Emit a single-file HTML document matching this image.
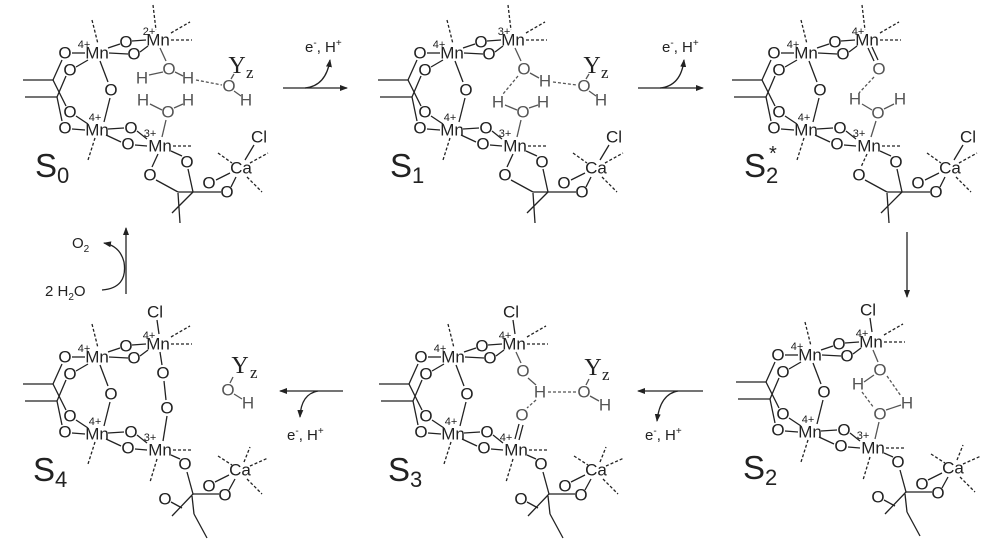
<!DOCTYPE html>
<html><head><meta charset="utf-8">
<style>
html,body{margin:0;padding:0;background:#fff;}
svg{display:block;}
text{font-family:"Liberation Sans",sans-serif;fill:#222;}
.a{font-size:17px;text-anchor:middle;dominant-baseline:central;}
.g{fill:#555;}
.c{font-size:11px;text-anchor:middle;dominant-baseline:central;}
.y{font-family:"Liberation Serif",serif;font-size:24px;text-anchor:middle;dominant-baseline:central;}
.z{font-family:"Liberation Serif",serif;font-size:17px;}
.S{font-size:33px;}
.s{font-size:22px;}
.lb{font-size:15px;}
line,path,polyline{stroke:#222;stroke-width:1.3;fill:none;}
.d{stroke-dasharray:3,2;}
.gl{stroke:#555;}
</style></head><body>
<svg width="1000" height="546" viewBox="0 0 1000 546" xmlns="http://www.w3.org/2000/svg">
<defs>
<marker id="ah" markerWidth="8" markerHeight="6" refX="7" refY="3" orient="auto" markerUnits="userSpaceOnUse"><path d="M0,0 L8,3 L0,6 Z" style="fill:#222;stroke:none"/></marker>
</defs>

<!-- ============ S0 ============ -->
<g transform="translate(0,0)">
<text class="a" x="65" y="53">O</text><text class="a" x="97" y="53">Mn</text><text class="c" x="84" y="45">4+</text>
<text class="a" x="126" y="42">O</text><text class="a" x="134" y="54">O</text><text class="a" x="158" y="40">Mn</text><text class="c" x="149" y="32">2+</text>
<text class="a" x="70" y="70">O</text><text class="a" x="111" y="90">O</text><text class="a" x="70" y="112">O</text><text class="a" x="65" y="128">O</text>
<text class="a" x="97" y="130">Mn</text><text class="c" x="95" y="118">4+</text>
<text class="a" x="131" y="128">O</text><text class="a" x="128" y="144">O</text><text class="a" x="160" y="146">Mn</text><text class="c" x="150" y="134">3+</text>
<line x1="72" y1="53" x2="85" y2="53"/><line x1="108" y1="48" x2="120" y2="44"/><line x1="132" y1="41" x2="146" y2="40"/>
<line x1="109" y1="53" x2="128" y2="54"/><line x1="140" y1="52" x2="148" y2="46"/>
<line x1="23" y1="80" x2="53" y2="80"/><line x1="25" y1="97" x2="57" y2="97"/>
<line x1="53" y1="80" x2="62" y2="60"/><line x1="53" y1="80" x2="66" y2="106"/><line x1="57" y1="97" x2="66" y2="76"/><line x1="57" y1="97" x2="62" y2="121"/>
<line x1="76" y1="67" x2="88" y2="60"/><line x1="76" y1="116" x2="88" y2="124"/><line x1="72" y1="129" x2="85" y2="130"/>
<line x1="100" y1="61" x2="108" y2="82"/><line x1="110" y1="98" x2="104" y2="122"/>
<line x1="108" y1="129" x2="124" y2="128"/><line x1="137" y1="131" x2="147" y2="139"/><line x1="106" y1="135" x2="121" y2="142"/><line x1="135" y1="145" x2="147" y2="146"/>
<line class="d" x1="92" y1="20" x2="98" y2="44"/><line class="d" x1="95" y1="138" x2="88" y2="160"/>
<line class="d" x1="153" y1="5" x2="156" y2="30"/><line class="d" x1="171" y1="40" x2="192" y2="40"/><line class="d" x1="171" y1="33" x2="190" y2="22"/>
<line class="d" x1="173" y1="146" x2="192" y2="146"/>
<text class="a" x="150" y="175">O</text><text class="a" x="187" y="162">O</text><text class="a" x="209" y="183">O</text><text class="a" x="227" y="192">O</text><text class="a" x="241" y="168">Ca</text><text class="a" x="259" y="137">Cl</text>
<line x1="158" y1="154" x2="152" y2="167"/><line x1="171" y1="151" x2="182" y2="156"/>
<line x1="156" y1="180" x2="178" y2="192"/><line x1="188" y1="169" x2="193" y2="192"/><line x1="178" y1="192" x2="221" y2="192"/>
<line x1="193" y1="192" x2="172" y2="213"/><line x1="178" y1="193" x2="180" y2="223"/>
<line x1="216" y1="180" x2="230" y2="173"/><line x1="231" y1="187" x2="236" y2="177"/><line x1="245" y1="160" x2="254" y2="145"/>
<line class="d" x1="218" y1="153" x2="232" y2="163"/><line class="d" x1="250" y1="163" x2="268" y2="153"/><line class="d" x1="247" y1="177" x2="262" y2="192"/>
<text class="a g" x="169" y="69">O</text><text class="a g" x="142" y="78">H</text><text class="a g" x="188" y="78">H</text>
<line class="gl" x1="160" y1="48" x2="166" y2="61"/><line class="gl" x1="149" y1="75" x2="163" y2="72"/><line class="gl" x1="175" y1="72" x2="183" y2="76"/>
<line class="d gl" x1="196" y1="80" x2="222" y2="85"/>
<text class="a g" x="143" y="100">H</text><text class="a g" x="168" y="112">O</text><text class="a g" x="188" y="100">H</text>
<line class="gl" x1="150" y1="104" x2="162" y2="110"/><line class="gl" x1="174" y1="108" x2="183" y2="104"/><line class="gl" x1="166" y1="120" x2="162" y2="137"/>
<text class="a g" x="229" y="86">O</text><text class="a g" x="246" y="100">H</text><line class="gl" x1="234" y1="91" x2="241" y2="96"/><line class="gl" x1="231" y1="79" x2="234" y2="74"/>
<text class="y" x="237" y="66">Y</text><text class="z" x="246" y="78">z</text>
<text class="S" x="35" y="177">S<tspan class="s" dy="6">0</tspan></text>
</g>

<!-- ============ S1 ============ -->
<g transform="translate(355,0)">
<text class="a" x="65" y="53">O</text><text class="a" x="97" y="53">Mn</text><text class="c" x="84" y="45">4+</text>
<text class="a" x="126" y="42">O</text><text class="a" x="134" y="54">O</text><text class="a" x="158" y="40">Mn</text><text class="c" x="149" y="32">3+</text>
<text class="a" x="70" y="70">O</text><text class="a" x="111" y="90">O</text><text class="a" x="70" y="112">O</text><text class="a" x="65" y="128">O</text>
<text class="a" x="97" y="130">Mn</text><text class="c" x="95" y="118">4+</text>
<text class="a" x="131" y="128">O</text><text class="a" x="128" y="144">O</text><text class="a" x="160" y="146">Mn</text><text class="c" x="150" y="134">3+</text>
<line x1="72" y1="53" x2="85" y2="53"/><line x1="108" y1="48" x2="120" y2="44"/><line x1="132" y1="41" x2="146" y2="40"/>
<line x1="109" y1="53" x2="128" y2="54"/><line x1="140" y1="52" x2="148" y2="46"/>
<line x1="23" y1="80" x2="53" y2="80"/><line x1="25" y1="97" x2="57" y2="97"/>
<line x1="53" y1="80" x2="62" y2="60"/><line x1="53" y1="80" x2="66" y2="106"/><line x1="57" y1="97" x2="66" y2="76"/><line x1="57" y1="97" x2="62" y2="121"/>
<line x1="76" y1="67" x2="88" y2="60"/><line x1="76" y1="116" x2="88" y2="124"/><line x1="72" y1="129" x2="85" y2="130"/>
<line x1="100" y1="61" x2="108" y2="82"/><line x1="110" y1="98" x2="104" y2="122"/>
<line x1="108" y1="129" x2="124" y2="128"/><line x1="137" y1="131" x2="147" y2="139"/><line x1="106" y1="135" x2="121" y2="142"/><line x1="135" y1="145" x2="147" y2="146"/>
<line class="d" x1="92" y1="20" x2="98" y2="44"/><line class="d" x1="95" y1="138" x2="88" y2="160"/>
<line class="d" x1="153" y1="5" x2="156" y2="30"/><line class="d" x1="171" y1="40" x2="192" y2="40"/><line class="d" x1="171" y1="33" x2="190" y2="22"/>
<line class="d" x1="173" y1="146" x2="192" y2="146"/>
<text class="a" x="150" y="175">O</text><text class="a" x="187" y="162">O</text><text class="a" x="209" y="183">O</text><text class="a" x="227" y="192">O</text><text class="a" x="241" y="168">Ca</text><text class="a" x="259" y="137">Cl</text>
<line x1="158" y1="154" x2="152" y2="167"/><line x1="171" y1="151" x2="182" y2="156"/>
<line x1="156" y1="180" x2="178" y2="192"/><line x1="188" y1="169" x2="193" y2="192"/><line x1="178" y1="192" x2="221" y2="192"/>
<line x1="193" y1="192" x2="172" y2="213"/><line x1="178" y1="193" x2="180" y2="223"/>
<line x1="216" y1="180" x2="230" y2="173"/><line x1="231" y1="187" x2="236" y2="177"/><line x1="245" y1="160" x2="254" y2="145"/>
<line class="d" x1="218" y1="153" x2="232" y2="163"/><line class="d" x1="250" y1="163" x2="268" y2="153"/><line class="d" x1="247" y1="177" x2="262" y2="192"/>
<text class="a g" x="169" y="69">O</text><text class="a g" x="190" y="81">H</text>
<line class="gl" x1="160" y1="48" x2="166" y2="61"/><line class="gl" x1="175" y1="73" x2="184" y2="78"/>
<line class="d gl" x1="163" y1="76" x2="148" y2="94"/>
<line class="d gl" x1="198" y1="82" x2="222" y2="85"/>
<text class="a g" x="143" y="102">H</text><text class="a g" x="168" y="112">O</text><text class="a g" x="188" y="102">H</text>
<line class="gl" x1="150" y1="105" x2="162" y2="110"/><line class="gl" x1="174" y1="108" x2="183" y2="105"/><line class="gl" x1="166" y1="120" x2="162" y2="137"/>
<text class="a g" x="229" y="86">O</text><text class="a g" x="246" y="100">H</text><line class="gl" x1="234" y1="91" x2="241" y2="96"/><line class="gl" x1="231" y1="79" x2="234" y2="74"/>
<text class="y" x="237" y="66">Y</text><text class="z" x="246" y="78">z</text>
<text class="S" x="35" y="177">S<tspan class="s" dy="6">1</tspan></text>
</g>

<!-- ============ S2* ============ -->
<g transform="translate(709,0)">
<text class="a" x="65" y="53">O</text><text class="a" x="97" y="53">Mn</text><text class="c" x="84" y="45">4+</text>
<text class="a" x="126" y="42">O</text><text class="a" x="134" y="54">O</text><text class="a" x="158" y="40">Mn</text><text class="c" x="149" y="32">4+</text>
<text class="a" x="70" y="70">O</text><text class="a" x="111" y="90">O</text><text class="a" x="70" y="112">O</text><text class="a" x="65" y="128">O</text>
<text class="a" x="97" y="130">Mn</text><text class="c" x="95" y="118">4+</text>
<text class="a" x="131" y="128">O</text><text class="a" x="128" y="144">O</text><text class="a" x="160" y="146">Mn</text><text class="c" x="150" y="134">3+</text>
<line x1="72" y1="53" x2="85" y2="53"/><line x1="108" y1="48" x2="120" y2="44"/><line x1="132" y1="41" x2="146" y2="40"/>
<line x1="109" y1="53" x2="128" y2="54"/><line x1="140" y1="52" x2="148" y2="46"/>
<line x1="23" y1="80" x2="53" y2="80"/><line x1="25" y1="97" x2="57" y2="97"/>
<line x1="53" y1="80" x2="62" y2="60"/><line x1="53" y1="80" x2="66" y2="106"/><line x1="57" y1="97" x2="66" y2="76"/><line x1="57" y1="97" x2="62" y2="121"/>
<line x1="76" y1="67" x2="88" y2="60"/><line x1="76" y1="116" x2="88" y2="124"/><line x1="72" y1="129" x2="85" y2="130"/>
<line x1="100" y1="61" x2="108" y2="82"/><line x1="110" y1="98" x2="104" y2="122"/>
<line x1="108" y1="129" x2="124" y2="128"/><line x1="137" y1="131" x2="147" y2="139"/><line x1="106" y1="135" x2="121" y2="142"/><line x1="135" y1="145" x2="147" y2="146"/>
<line class="d" x1="92" y1="20" x2="98" y2="44"/><line class="d" x1="95" y1="138" x2="88" y2="160"/>
<line class="d" x1="153" y1="5" x2="156" y2="30"/><line class="d" x1="171" y1="40" x2="192" y2="40"/><line class="d" x1="171" y1="33" x2="190" y2="22"/>
<line class="d" x1="173" y1="146" x2="192" y2="146"/>
<text class="a" x="150" y="175">O</text><text class="a" x="187" y="162">O</text><text class="a" x="209" y="183">O</text><text class="a" x="227" y="192">O</text><text class="a" x="241" y="168">Ca</text><text class="a" x="259" y="137">Cl</text>
<line class="d" x1="158" y1="154" x2="152" y2="167"/><line x1="171" y1="151" x2="182" y2="156"/>
<line x1="156" y1="180" x2="178" y2="192"/><line x1="188" y1="169" x2="193" y2="192"/><line x1="178" y1="192" x2="221" y2="192"/>
<line x1="193" y1="192" x2="172" y2="213"/><line x1="178" y1="193" x2="180" y2="223"/>
<line x1="216" y1="180" x2="230" y2="173"/><line x1="231" y1="187" x2="236" y2="177"/><line x1="245" y1="160" x2="254" y2="145"/>
<line class="d" x1="218" y1="153" x2="232" y2="163"/><line class="d" x1="250" y1="163" x2="268" y2="153"/><line class="d" x1="247" y1="177" x2="262" y2="192"/>
<text class="a g" x="170" y="69">O</text>
<line x1="159" y1="48" x2="165" y2="61"/><line x1="163" y1="47" x2="169" y2="60"/>
<line class="d gl" x1="165" y1="77" x2="150" y2="93"/>
<text class="a g" x="146" y="99">H</text><text class="a g" x="169" y="113">O</text><text class="a g" x="191" y="99">H</text>
<line class="gl" x1="153" y1="104" x2="163" y2="110"/><line class="gl" x1="175" y1="109" x2="185" y2="104"/><line class="gl" x1="167" y1="121" x2="162" y2="137"/>
<text class="S" x="35" y="177">S<tspan class="s" dy="6">2</tspan></text>
<text x="60" y="160" style="font-size:20px">*</text>
</g>

<!-- ============ S2 ============ -->
<g transform="translate(713,302)">
<text class="a" x="65" y="53">O</text><text class="a" x="97" y="53">Mn</text><text class="c" x="84" y="45">4+</text>
<text class="a" x="126" y="42">O</text><text class="a" x="134" y="54">O</text><text class="a" x="158" y="40">Mn</text><text class="c" x="149" y="32">4+</text>
<text class="a" x="70" y="70">O</text><text class="a" x="111" y="90">O</text><text class="a" x="70" y="112">O</text><text class="a" x="65" y="128">O</text>
<text class="a" x="97" y="130">Mn</text><text class="c" x="95" y="118">4+</text>
<text class="a" x="131" y="128">O</text><text class="a" x="128" y="144">O</text><text class="a" x="160" y="146">Mn</text><text class="c" x="150" y="134">3+</text>
<line x1="72" y1="53" x2="85" y2="53"/><line x1="108" y1="48" x2="120" y2="44"/><line x1="132" y1="41" x2="146" y2="40"/>
<line x1="109" y1="53" x2="128" y2="54"/><line x1="140" y1="52" x2="148" y2="46"/>
<line x1="23" y1="80" x2="53" y2="80"/><line x1="25" y1="97" x2="57" y2="97"/>
<line x1="53" y1="80" x2="62" y2="60"/><line x1="53" y1="80" x2="66" y2="106"/><line x1="57" y1="97" x2="66" y2="76"/><line x1="57" y1="97" x2="62" y2="121"/>
<line x1="76" y1="67" x2="88" y2="60"/><line x1="76" y1="116" x2="88" y2="124"/><line x1="72" y1="129" x2="85" y2="130"/>
<line x1="100" y1="61" x2="108" y2="82"/><line x1="110" y1="98" x2="104" y2="122"/>
<line x1="108" y1="129" x2="124" y2="128"/><line x1="137" y1="131" x2="147" y2="139"/><line x1="106" y1="135" x2="121" y2="142"/><line x1="135" y1="145" x2="147" y2="146"/>
<line class="d" x1="92" y1="20" x2="98" y2="44"/><line class="d" x1="95" y1="138" x2="88" y2="160"/>
<line class="d" x1="171" y1="40" x2="192" y2="40"/><line class="d" x1="171" y1="33" x2="190" y2="22"/>
<text class="a" x="155" y="8">Cl</text><line x1="157" y1="16" x2="159" y2="30"/>
<line class="d" x1="173" y1="146" x2="192" y2="146"/><line class="d" x1="157" y1="155" x2="150" y2="178"/>
<text class="a" x="185" y="160">O</text><text class="a" x="209" y="182">O</text><text class="a" x="225" y="191">O</text><text class="a" x="240" y="166">Ca</text><text class="a" x="165" y="195">O</text>
<line x1="171" y1="151" x2="180" y2="155"/><line x1="187" y1="168" x2="193" y2="190"/><line x1="193" y1="190" x2="219" y2="190"/>
<line x1="171" y1="198" x2="182" y2="204"/><line x1="193" y1="190" x2="172" y2="212"/><line x1="192" y1="192" x2="194" y2="210"/><line x1="194" y1="210" x2="207" y2="234"/>
<line x1="215" y1="178" x2="229" y2="171"/><line x1="229" y1="186" x2="235" y2="175"/>
<line class="d" x1="218" y1="152" x2="232" y2="161"/><line class="d" x1="244" y1="158" x2="250" y2="143"/><line class="d" x1="250" y1="162" x2="268" y2="154"/><line class="d" x1="247" y1="175" x2="262" y2="190"/>
<text class="a g" x="167" y="68">O</text><text class="a g" x="145" y="82">H</text><text class="a g" x="194" y="101">H</text><text class="a g" x="167" y="112">O</text>
<line class="gl" x1="160" y1="48" x2="165" y2="60"/><line class="gl" x1="151" y1="80" x2="161" y2="73"/>
<line class="d gl" x1="174" y1="74" x2="188" y2="94"/><line class="d gl" x1="149" y1="90" x2="161" y2="106"/>
<line class="gl" x1="173" y1="108" x2="188" y2="103"/><line class="gl" x1="166" y1="120" x2="162" y2="137"/>
<text class="S" x="30" y="177">S<tspan class="s" dy="6">2</tspan></text>
</g>

<!-- ============ S3 ============ -->
<g transform="translate(356,304)">
<text class="a" x="65" y="53">O</text><text class="a" x="97" y="53">Mn</text><text class="c" x="84" y="45">4+</text>
<text class="a" x="126" y="42">O</text><text class="a" x="134" y="54">O</text><text class="a" x="158" y="40">Mn</text><text class="c" x="149" y="32">4+</text>
<text class="a" x="70" y="70">O</text><text class="a" x="111" y="90">O</text><text class="a" x="70" y="112">O</text><text class="a" x="65" y="128">O</text>
<text class="a" x="97" y="130">Mn</text><text class="c" x="95" y="118">4+</text>
<text class="a" x="131" y="128">O</text><text class="a" x="128" y="144">O</text><text class="a" x="160" y="146">Mn</text><text class="c" x="150" y="134">4+</text>
<line x1="72" y1="53" x2="85" y2="53"/><line x1="108" y1="48" x2="120" y2="44"/><line x1="132" y1="41" x2="146" y2="40"/>
<line x1="109" y1="53" x2="128" y2="54"/><line x1="140" y1="52" x2="148" y2="46"/>
<line x1="23" y1="80" x2="53" y2="80"/><line x1="25" y1="97" x2="57" y2="97"/>
<line x1="53" y1="80" x2="62" y2="60"/><line x1="53" y1="80" x2="66" y2="106"/><line x1="57" y1="97" x2="66" y2="76"/><line x1="57" y1="97" x2="62" y2="121"/>
<line x1="76" y1="67" x2="88" y2="60"/><line x1="76" y1="116" x2="88" y2="124"/><line x1="72" y1="129" x2="85" y2="130"/>
<line x1="100" y1="61" x2="108" y2="82"/><line x1="110" y1="98" x2="104" y2="122"/>
<line x1="108" y1="129" x2="124" y2="128"/><line x1="137" y1="131" x2="147" y2="139"/><line x1="106" y1="135" x2="121" y2="142"/><line x1="135" y1="145" x2="147" y2="146"/>
<line class="d" x1="92" y1="20" x2="98" y2="44"/><line class="d" x1="95" y1="138" x2="88" y2="160"/>
<line class="d" x1="171" y1="40" x2="192" y2="40"/><line class="d" x1="171" y1="33" x2="190" y2="22"/>
<text class="a" x="155" y="8">Cl</text><line x1="157" y1="16" x2="159" y2="30"/>
<line class="d" x1="173" y1="146" x2="192" y2="146"/><line class="d" x1="157" y1="155" x2="150" y2="178"/>
<text class="a" x="185" y="160">O</text><text class="a" x="209" y="182">O</text><text class="a" x="225" y="191">O</text><text class="a" x="240" y="166">Ca</text><text class="a" x="165" y="195">O</text>
<line x1="171" y1="151" x2="180" y2="155"/><line x1="187" y1="168" x2="193" y2="190"/><line x1="193" y1="190" x2="219" y2="190"/>
<line x1="171" y1="198" x2="182" y2="204"/><line x1="193" y1="190" x2="172" y2="212"/><line x1="192" y1="192" x2="194" y2="210"/><line x1="194" y1="210" x2="207" y2="234"/>
<line x1="215" y1="178" x2="229" y2="171"/><line x1="229" y1="186" x2="235" y2="175"/>
<line class="d" x1="218" y1="152" x2="232" y2="161"/><line class="d" x1="244" y1="158" x2="250" y2="143"/><line class="d" x1="250" y1="162" x2="268" y2="154"/><line class="d" x1="247" y1="175" x2="262" y2="190"/>
<text class="a g" x="167" y="67">O</text><text class="a g" x="184" y="88">H</text><text class="a g" x="166" y="111">O</text>
<line class="gl" x1="160" y1="48" x2="165" y2="59"/><line class="gl" x1="172" y1="74" x2="180" y2="81"/>
<line class="d gl" x1="180" y1="96" x2="171" y2="104"/>
<line x1="163" y1="120" x2="159" y2="135"/><line x1="167" y1="121" x2="163" y2="136"/>
<line class="d gl" x1="192" y1="88" x2="221" y2="88"/>
<text class="a g" x="228" y="88">O</text><text class="a g" x="249" y="101">H</text><line class="gl" x1="234" y1="92" x2="243" y2="97"/><line class="gl" x1="230" y1="81" x2="233" y2="75"/>
<text class="y" x="237" y="64">Y</text><text class="z" x="246" y="76">z</text>
<text class="S" x="32" y="177">S<tspan class="s" dy="6">3</tspan></text>
</g>

<!-- ============ S4 ============ -->
<g transform="translate(0,304)">
<text class="a" x="65" y="53">O</text><text class="a" x="97" y="53">Mn</text><text class="c" x="84" y="45">4+</text>
<text class="a" x="126" y="42">O</text><text class="a" x="134" y="54">O</text><text class="a" x="158" y="40">Mn</text><text class="c" x="149" y="32">4+</text>
<text class="a" x="70" y="70">O</text><text class="a" x="111" y="90">O</text><text class="a" x="70" y="112">O</text><text class="a" x="65" y="128">O</text>
<text class="a" x="97" y="130">Mn</text><text class="c" x="95" y="118">4+</text>
<text class="a" x="131" y="128">O</text><text class="a" x="128" y="144">O</text><text class="a" x="160" y="146">Mn</text><text class="c" x="150" y="134">3+</text>
<line x1="72" y1="53" x2="85" y2="53"/><line x1="108" y1="48" x2="120" y2="44"/><line x1="132" y1="41" x2="146" y2="40"/>
<line x1="109" y1="53" x2="128" y2="54"/><line x1="140" y1="52" x2="148" y2="46"/>
<line x1="23" y1="80" x2="53" y2="80"/><line x1="25" y1="97" x2="57" y2="97"/>
<line x1="53" y1="80" x2="62" y2="60"/><line x1="53" y1="80" x2="66" y2="106"/><line x1="57" y1="97" x2="66" y2="76"/><line x1="57" y1="97" x2="62" y2="121"/>
<line x1="76" y1="67" x2="88" y2="60"/><line x1="76" y1="116" x2="88" y2="124"/><line x1="72" y1="129" x2="85" y2="130"/>
<line x1="100" y1="61" x2="108" y2="82"/><line x1="110" y1="98" x2="104" y2="122"/>
<line x1="108" y1="129" x2="124" y2="128"/><line x1="137" y1="131" x2="147" y2="139"/><line x1="106" y1="135" x2="121" y2="142"/><line x1="135" y1="145" x2="147" y2="146"/>
<line class="d" x1="92" y1="20" x2="98" y2="44"/><line class="d" x1="95" y1="138" x2="88" y2="160"/>
<line class="d" x1="171" y1="40" x2="192" y2="40"/><line class="d" x1="171" y1="33" x2="190" y2="22"/>
<text class="a" x="155" y="8">Cl</text><line x1="157" y1="16" x2="159" y2="30"/>
<line class="d" x1="173" y1="146" x2="192" y2="146"/><line class="d" x1="157" y1="155" x2="150" y2="178"/>
<text class="a" x="185" y="160">O</text><text class="a" x="209" y="182">O</text><text class="a" x="225" y="191">O</text><text class="a" x="240" y="166">Ca</text><text class="a" x="165" y="195">O</text>
<line x1="171" y1="151" x2="180" y2="155"/><line x1="187" y1="168" x2="193" y2="190"/><line x1="193" y1="190" x2="219" y2="190"/>
<line x1="171" y1="198" x2="182" y2="204"/><line x1="193" y1="190" x2="172" y2="212"/><line x1="192" y1="192" x2="194" y2="210"/><line x1="194" y1="210" x2="207" y2="234"/>
<line x1="215" y1="178" x2="229" y2="171"/><line x1="229" y1="186" x2="235" y2="175"/>
<line class="d" x1="218" y1="152" x2="232" y2="161"/><line class="d" x1="244" y1="158" x2="250" y2="143"/><line class="d" x1="250" y1="162" x2="268" y2="154"/><line class="d" x1="247" y1="175" x2="262" y2="190"/>
<text class="a" x="163" y="69">O</text><text class="a" x="167" y="104">O</text>
<line x1="160" y1="48" x2="162" y2="61"/><line x1="164" y1="77" x2="166" y2="96"/><line x1="167" y1="112" x2="163" y2="137"/>
<text class="a g" x="228" y="86">O</text><text class="a g" x="248" y="99">H</text><line class="gl" x1="234" y1="90" x2="242" y2="95"/><line class="gl" x1="230" y1="79" x2="233" y2="73"/>
<text class="y" x="240" y="62">Y</text><text class="z" x="250" y="74">z</text>
<text class="S" x="33" y="177">S<tspan class="s" dy="6">4</tspan></text>
</g>

<!-- ============ arrows ============ -->
<line x1="283" y1="88" x2="347" y2="88" marker-end="url(#ah)"/>
<path d="M305,88 Q326,86 330,60" marker-end="url(#ah)"/>
<text class="lb" x="305" y="52">e<tspan dy="-6" font-size="10">-</tspan><tspan dy="6">, H</tspan><tspan dy="-6" font-size="10">+</tspan></text>

<line x1="638" y1="88" x2="703" y2="88" marker-end="url(#ah)"/>
<path d="M660,88 Q681,86 684,60" marker-end="url(#ah)"/>
<text class="lb" x="662" y="52">e<tspan dy="-6" font-size="10">-</tspan><tspan dy="6">, H</tspan><tspan dy="-6" font-size="10">+</tspan></text>

<line x1="907" y1="232" x2="907" y2="297" marker-end="url(#ah)"/>

<line x1="703" y1="391" x2="638" y2="391" marker-end="url(#ah)"/>
<path d="M678,391 Q660,394 657,421" marker-end="url(#ah)"/>
<text class="lb" x="645" y="440">e<tspan dy="-6" font-size="10">-</tspan><tspan dy="6">, H</tspan><tspan dy="-6" font-size="10">+</tspan></text>

<line x1="343" y1="391" x2="280" y2="391" marker-end="url(#ah)"/>
<path d="M318,391 Q301,394 300,417" marker-end="url(#ah)"/>
<text class="lb" x="287" y="440">e<tspan dy="-6" font-size="10">-</tspan><tspan dy="6">, H</tspan><tspan dy="-6" font-size="10">+</tspan></text>

<line x1="126" y1="294" x2="126" y2="228" marker-end="url(#ah)"/>
<path d="M102,290 Q128,288 124,262 Q120,246 104,243" marker-end="url(#ah)"/>
<text class="lb" x="72" y="248">O<tspan dy="4" font-size="10">2</tspan></text>
<text class="lb" x="45" y="296">2 H<tspan dy="4" font-size="10">2</tspan><tspan dy="-4">O</tspan></text>
</svg>
</body></html>
